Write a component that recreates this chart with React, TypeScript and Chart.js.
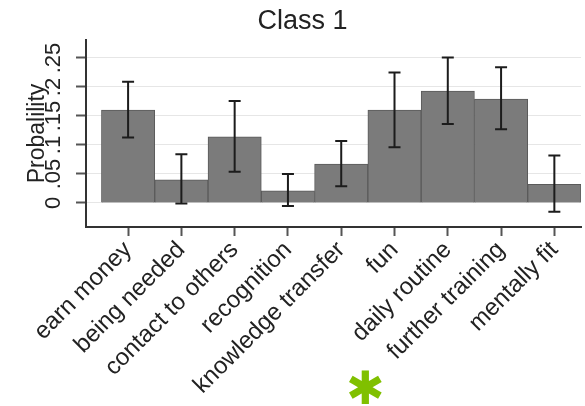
import React, { useEffect, useRef } from "react";
import { Chart, registerables } from "chart.js";

Chart.register(...registerables);

const categories = [
  "earn money",
  "being needed",
  "contact to others",
  "recognition",
  "knowledge transfer",
  "fun",
  "daily routine",
  "further training",
  "mentally fit",
];
const probabilities = [0.16, 0.04, 0.114, 0.021, 0.067, 0.16, 0.193, 0.179, 0.032];
const ciLower = [0.113, -0.001, 0.054, -0.005, 0.029, 0.096, 0.136, 0.127, -0.015];
const ciUpper = [0.209, 0.084, 0.176, 0.05, 0.107, 0.225, 0.251, 0.234, 0.082];
const yTicks = [0, 0.05, 0.1, 0.15, 0.2, 0.25];
const yTickLabels = ["0", ".05", ".1", ".15", ".2", ".25"];
const titleText = "Class 1";
const yAxisTitle = "Probalility";
const noteMark = "✱";

const FONT = "'Liberation Sans', Arial, Helvetica, sans-serif";
const TEXT = "#222222";

const errorBarPlugin = {
  id: "errorBars",
  afterDatasetsDraw(chart: any) {
    const { ctx, scales } = chart;
    const x = scales.x;
    const y = scales.y;
    ctx.save();
    ctx.strokeStyle = "#1c1c1c";
    ctx.lineWidth = 2;
    categories.forEach((_, i) => {
      const px = x.getPixelForValue(i);
      const top = y.getPixelForValue(ciUpper[i]);
      const bot = y.getPixelForValue(ciLower[i]);
      ctx.beginPath();
      ctx.moveTo(px, top);
      ctx.lineTo(px, bot);
      ctx.moveTo(px - 6, top);
      ctx.lineTo(px + 6, top);
      ctx.moveTo(px - 6, bot);
      ctx.lineTo(px + 6, bot);
      ctx.stroke();
    });
    ctx.restore();
  },
};

const titlePlugin = {
  id: "titleAt",
  afterDraw(chart: any) {
    const { ctx } = chart;
    ctx.save();
    ctx.font = `27px ${FONT}`;
    ctx.fillStyle = TEXT;
    ctx.textAlign = "center";
    ctx.textBaseline = "middle";
    ctx.fillText(titleText, chart.width / 2 + 10, 22);
    ctx.restore();
  },
};

export default function App() {
  const ref = useRef<HTMLCanvasElement | null>(null);

  useEffect(() => {
    if (!ref.current) return;
    const chart = new Chart(ref.current, {
      type: "bar",
      data: {
        datasets: [
          {
            data: categories.map((_, i) => ({ x: i, y: probabilities[i] })),
            backgroundColor: "#7b7b7b",
            borderColor: "#5a5a5a",
            borderWidth: 1,
            barPercentage: 1,
            categoryPercentage: 1,
          },
        ],
      },
      options: {
        animation: false,
        responsive: false,
        layout: { padding: { top: 40, right: 4, left: 0, bottom: 0 } },
        plugins: {
          legend: { display: false },
          tooltip: { enabled: false },
          title: { display: false },
        },
        scales: {
          x: {
            type: "linear",
            offset: false,
            min: -0.79,
            max: 8.5,
            afterBuildTicks: (s: any) => {
              s.ticks = categories.map((_, i) => ({ value: i }));
            },
            afterFit: (s: any) => {
              s.height = 179;
            },
            ticks: {
              autoSkip: false,
              minRotation: 45,
              maxRotation: 45,
              padding: 0,
              color: TEXT,
              font: { family: FONT, size: 24 },
              callback: (_v: any, i: number) => categories[i],
            },
            grid: {
              offset: false,
              drawOnChartArea: false,
              tickLength: 9,
              tickColor: "#555555",
              tickWidth: 2,
            },
            border: { color: "#333333", width: 2 },
          },
          y: {
            min: -0.0414,
            max: 0.281,
            afterBuildTicks: (s: any) => {
              s.ticks = yTicks.map((v) => ({ value: v }));
            },
            afterFit: (s: any) => {
              s.width = 86;
            },
            ticks: {
              autoSkip: false,
              minRotation: 90,
              maxRotation: 90,
              crossAlign: "center",
              padding: 7,
              color: TEXT,
              font: { family: FONT, size: 22 },
              callback: (_v: any, i: number) => yTickLabels[i],
            },
            grid: {
              color: "#e6e6e6",
              lineWidth: 1,
              tickLength: 10,
              tickColor: "#555555",
              tickWidth: 2,
            },
            border: { color: "#333333", width: 2 },
            title: {
              display: true,
              text: yAxisTitle,
              color: TEXT,
              font: { family: FONT, size: 23 },
              padding: { top: 24, bottom: 0 },
            },
          },
        },
      } as any,
      plugins: [errorBarPlugin, titlePlugin],
    });
    return () => chart.destroy();
  }, []);

  return (
    <div style={{ position: "absolute", left: 0, top: 0, width: 585, height: 406, background: "#fff", overflow: "hidden" }}>
      <canvas ref={ref} width={585} height={406} style={{ width: 585, height: 406 }} />
      <span
        style={{
          position: "absolute",
          left: 346,
          top: 365,
          fontFamily: "'DejaVu Sans', sans-serif",
          fontSize: 46,
          lineHeight: 1,
          color: "#80c000",
        }}
      >
        {noteMark}
      </span>
    </div>
  );
}
